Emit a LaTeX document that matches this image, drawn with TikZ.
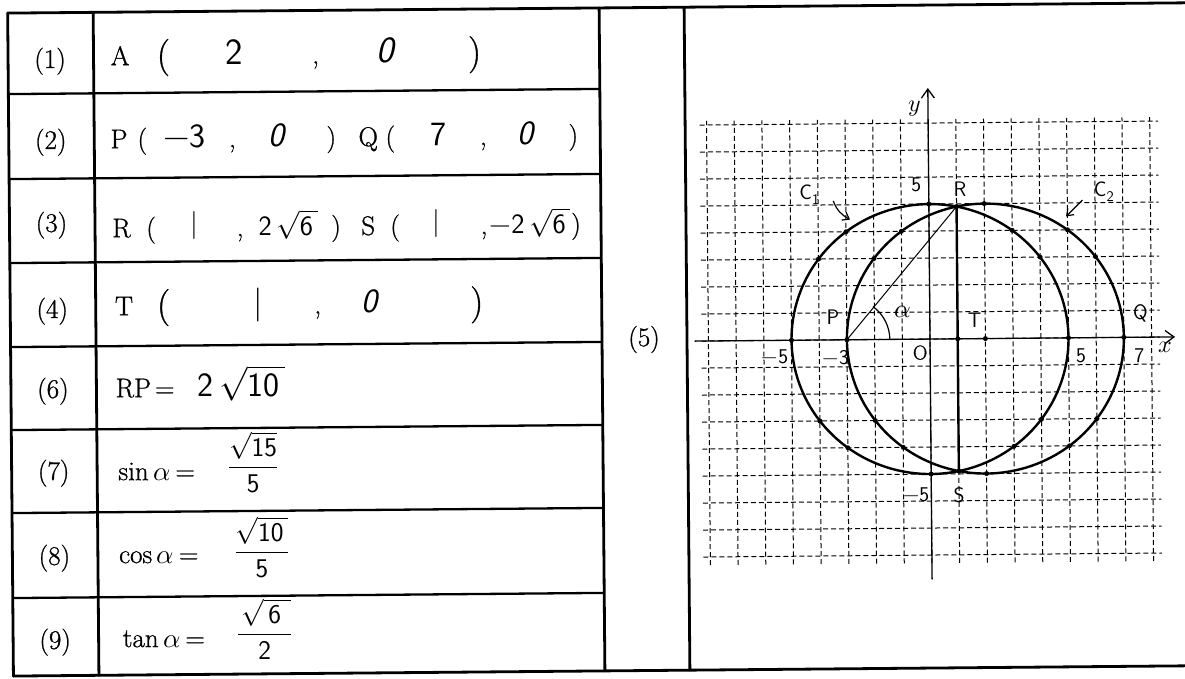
\documentclass[tikz,border=0pt]{standalone}
\usepackage{amsmath}
\usepackage{fontspec}
\usepackage{unicode-math}
\setmathfont{Latin Modern Math}
\newfontfamily\prfont[FakeBold=0.9]{Latin Modern Roman}
\usetikzlibrary{arrows.meta}
\tikzset{
  frame/.style={line width=2.8pt, line cap=round},
  rowline/.style={line width=2.3pt},
  pr/.style={font=\prfont\fontsize{27}{32}\selectfont, inner sep=0pt, anchor=base west},
  prc/.style={font=\prfont\fontsize{27}{32}\selectfont, inner sep=0pt, anchor=base},
  bigp/.style={font=\prfont\fontsize{37}{42}\selectfont, inner sep=0pt, anchor=base},
  hw/.style={font=\sffamily\fontsize{34}{40}\selectfont, inner sep=0pt, anchor=base},
  hwbig/.style={font=\sffamily\fontsize{37}{42}\selectfont, inner sep=0pt, anchor=base},
  hwo/.style={font=\sffamily\itshape\fontsize{34}{40}\selectfont, inner sep=0pt, anchor=base},
  hws/.style={font=\sffamily\fontsize{28}{32}\selectfont, inner sep=0pt, anchor=base},
  frac/.style={font=\sffamily\fontsize{27}{32}\selectfont, inner sep=0pt, anchor=base},
  lab/.style={font=\prfont\fontsize{27}{32}\selectfont, inner sep=0pt},
  gridline/.style={line width=1pt, dash pattern=on 5pt off 3pt},
  axisline/.style={line width=1.3pt, -{Straight Barb[length=9pt,width=13pt]}},
  curve/.style={line width=2.4pt},
  gl/.style={font=\sffamily\fontsize{21}{24}\selectfont, inner sep=0pt},
  dot/.style={circle, fill, inner sep=0pt, minimum size=5pt},
}
\begin{document}
\begin{tikzpicture}[x=1pt,y=-1pt]
\useasboundingbox (0,0) rectangle (1185,678);
\fill[white] (0,0) rectangle (1185,678);
\clip (0,0) rectangle (1185,678);
\begin{scope}[rotate around={0.5:(592,339)}]
% ---------- table frame ----------
\draw[frame] (10.5,8) -- (1200,8);
\draw[frame] (10.5,671) -- (1200,671);
\draw[frame] (10.5,8) -- (10.5,671);
\draw[frame] (96,8) -- (96,671);
\draw[frame] (602,8) -- (602,671);
\draw[frame] (687,8) -- (687,671);
\foreach \yy in {89,174,258,342,425,508,593}
  \draw[rowline] (10.5,\yy) -- (602,\yy);
% ---------- row labels ----------
\node[lab] (l1) at (52.5,56.5) {(1)};
\node[lab] (l2) at (52.5,137.5) {(2)};
\node[lab] (l3) at (52.5,220.5) {(3)};
\node[lab] (l4) at (52.5,306.5) {(4)};
\node[lab] (l6) at (52.5,386.5) {(6)};
\node[lab] (l7) at (52.5,468.5) {(7)};
\node[lab] (l8) at (52.5,553.5) {(8)};
\node[lab] (l9) at (52.5,637.5) {(9)};
\node[lab] (l5) at (644,340) {(5)};
% ---------- row 1 ----------
\node[pr] (r1a) at (113,61) {A};
\node[bigp, anchor=base west] (r1b) at (159,63) {(};
\node[hwbig] (r1c) at (237,61) {2};
\node[prc] (r1d) at (318,61) {,};
\node[hwo, font=\sffamily\itshape\fontsize{37}{42}\selectfont] (r1e) at (388,61) {0};
\node[bigp] (r1f) at (477,63) {)};
% ---------- row 2 ----------
\node[pr] (r2a) at (112,144) {P};
\node[pr] (r2b) at (139,144) {(};
\node[hw] (r2c) at (186,144) {$-$3};
\node[prc] (r2d) at (234,144) {,};
\node[hwo] (r2e) at (278,144) {0};
\node[prc] (r2f) at (333,144) {)};
\node[pr] (r2g) at (360,144) {Q};
\node[pr] (r2h) at (387,144) {(};
\node[hw] (r2i) at (440,144) {7};
\node[prc] (r2j) at (485,144) {,};
\node[hwo] (r2k) at (527,144) {0};
\node[prc] (r2l) at (575,144) {)};
% ---------- row 3 ----------
\node[pr] (r3a) at (113,233) {R};
\node[pr] (r3b) at (147,233) {(};
\node[hws, anchor=center] (r3c) at (195,222) {|};
\node[prc] (r3d) at (241,233) {,};
\node[hws] (r3e) at (289,233) {2\,$\sqrt{\textsf{6}\,}$};
\node[prc] (r3f) at (337,233) {)};
\node[pr] (r3g) at (362,233) {S};
\node[pr] (r3h) at (391,233) {(};
\node[hws, anchor=center] (r3i) at (437,222) {|};
\node[prc] (r3j) at (485,233) {,};
\node[hws] (r3k) at (531,233) {$-$2\,$\sqrt{\textsf{6}\,}$};
\node[prc] (r3l) at (577,233) {)};
% ---------- row 4 ----------
\node[pr] (r4a) at (115,311) {T};
\node[bigp, anchor=base west] (r4b) at (157,313) {(};
\node[hw, anchor=center] (r4c) at (259,302) {|};
\node[prc] (r4d) at (318,311) {,};
\node[hwo] (r4e) at (370,311) {0};
\node[bigp] (r4f) at (477,313) {)};
% ---------- row 6 ----------
\node[pr] (r6a) at (115,393) {RP\hspace{4pt}=};
\node[hw, anchor=base west] (r6b) at (197,393) {2\,$\sqrt{\textsf{10}\,}$};
% ---------- rows 7-9 ----------
\node[pr] (r7a) at (117,476) {sin\,$\alpha$\hspace{5pt}=};
\node[frac] (r7b) at (252,471.5) {$\dfrac{\sqrt{\textsf{15}}}{\textsf{5}}$};
\node[pr] (r8a) at (117,559) {cos\,$\alpha$\hspace{5pt}=};
\node[frac] (r8b) at (260,556.5) {$\dfrac{\sqrt{\textsf{10}\,}}{\textsf{5}}$};
\node[pr] (r9a) at (120,643) {tan\,$\alpha$\hspace{5pt}=};
\node[frac] (r9b) at (262,638.5) {$\dfrac{\hspace{3pt}\sqrt{\,\textsf{6}\hspace{10pt}}}{\textsf{2}}$};
% ---------- graph ----------
\begin{scope}[shift={(930,342)}, x=27.7pt, y=27pt]
  \foreach \i in {-8,...,8}
    \draw[gridline] (\i,-8.3) -- (\i,8.15);
  \foreach \j in {-8,...,8}
    \draw[gridline] (-8.25,\j) -- (8.3,\j);
  \coordinate (xs) at (-8.5,0);
  \coordinate (xe) at (8.85,0);
  \coordinate (ys) at (0,-8.9);
  \coordinate (ye) at (0,9.3);
  \draw[axisline] (xs) -- (xe);
  \draw[axisline] (ys) -- (ye);
  \coordinate (P) at (-3,0);
  \coordinate (Q) at (7,0);
  \coordinate (R) at (1,4.899);
  \coordinate (S) at (1,-4.899);
  \coordinate (T) at (1,0);
  \coordinate (A) at (2,0);
  % circles
  \draw[curve] plot[domain=78.46:281.54, samples=80] ({5*cos(\x)},{5*sin(\x)});
  \draw[curve] plot[domain=-78.46:78.46, samples=80] ({5*cos(\x)},{5*sin(\x)});
  \draw[curve] plot[domain=-101.54:101.54, samples=80] ({2+5*cos(\x)},{5*sin(\x)});
  \draw[curve] plot[domain=101.54:258.46, samples=80] ({2+5*cos(\x)},{5*sin(\x)});
  % segments
  \draw[line width=1pt] (P) -- (R);
  \draw[curve] (R) -- (S);
  \draw[line width=1.2pt] (-1.45,0) arc[start angle=0, end angle=52, radius=1.55];
  % dots
  \foreach \p in {(0,5),(-3,4),(-4,3),(-5,0),(-4,-3),(-3,-4),(0,-5),(3,4),(4,3),(5,0),(4,-3),(3,-4),(2,5),(5,4),(6,3),(7,0),(6,-3),(5,-4),(2,-5),(-1,4),(-2,3),(-3,0),(-2,-3),(-1,-4),(1,0),(2,0),(1,4.899),(1,-4.899)}
    \node[dot] at \p {};
  % C arrows
  \coordinate (c1s) at (-3.45,5.15);
  \coordinate (c1e) at (-2.85,4.45);
  \coordinate (c2s) at (5.55,5.1);
  \coordinate (c2e) at (4.95,4.5);
  \draw[line width=1.2pt, -{Straight Barb[length=6pt,width=9pt]}] (c1s) to[out=-70, in=150] (c1e);
  \draw[line width=1.2pt, -{Straight Barb[length=6pt,width=9pt]}] (c2s) -- (c2e);
  % labels
  \node[font=\fontsize{24}{28}\selectfont, inner sep=0pt] (ylab) at (-0.47,8.55) {$y$};
  \node[font=\fontsize{24}{28}\selectfont, inner sep=0pt] (xlab) at (8.5,-0.4) {$x$};
  \node[gl] (t5) at (-0.45,5.7) {5};
  \node[gl] (tR) at (1.13,5.55) {R};
  \node[gl] (tC1) at (-4.3,5.4) {C\textsubscript{1}};
  \node[gl] (tC2) at (6.33,5.4) {C\textsubscript{2}};
  \node[gl] (tP) at (-3.5,0.85) {P};
  \node[font=\fontsize{26}{30}\selectfont, inner sep=0pt] (tal) at (-0.96,1.0) {$\alpha$};
  \node[gl] (tT) at (1.62,0.7) {T};
  \node[gl] (tQ) at (7.6,0.9) {Q};
  \node[font=\prfont\fontsize{20}{24}\selectfont, inner sep=0pt] (tO) at (-0.36,-0.5) {O};
  \node[gl] (tm5) at (-5.6,-0.6) {$-$5};
  \node[gl] (tm3) at (-3.4,-0.65) {$-$3};
  \node[gl] (tp5) at (5.45,-0.65) {5};
  \node[gl] (tp7) at (7.55,-0.7) {7};
  \node[gl] (tm5b) at (-0.55,-5.75) {$-$5};
  \node[gl] (tS) at (1.0,-5.8) {S};
\end{scope}
\end{scope}
\end{tikzpicture}
\end{document}
